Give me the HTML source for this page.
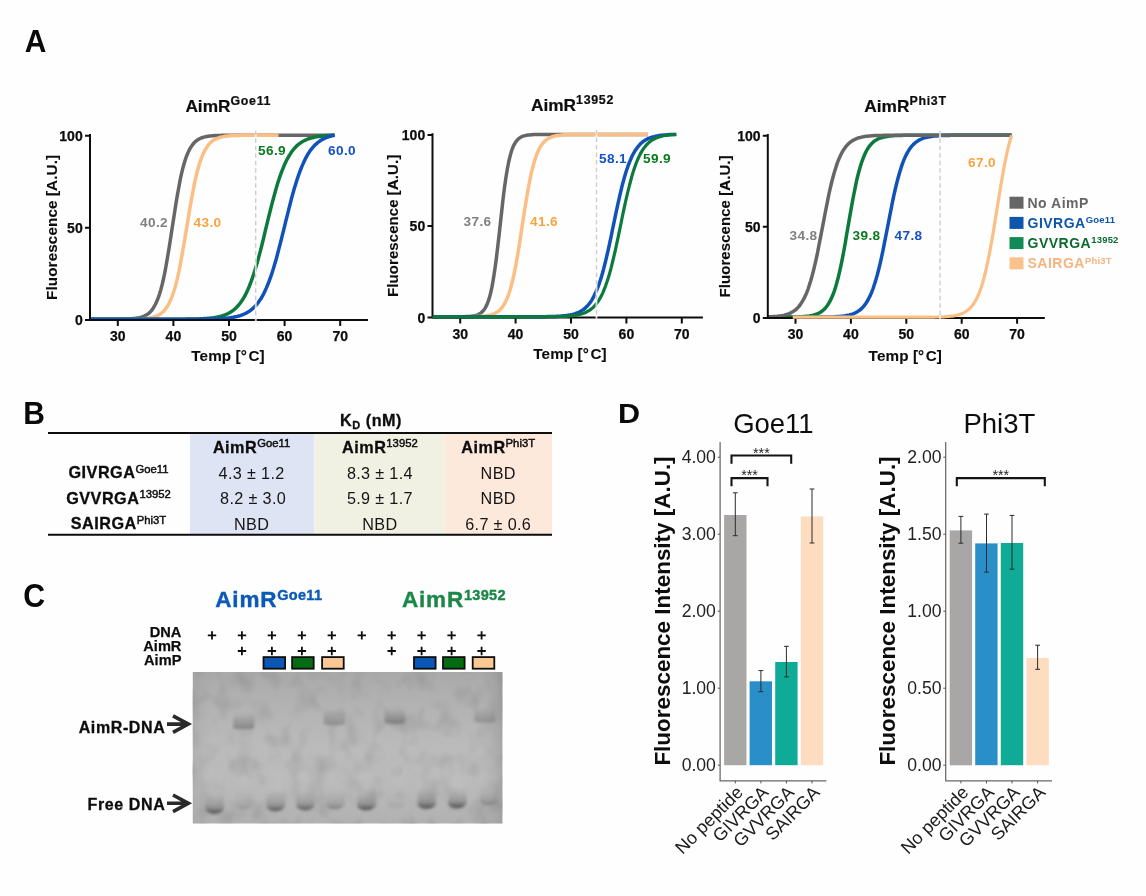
<!DOCTYPE html>
<html lang="en"><head><meta charset="utf-8"><title>AimR figure</title>
<style>
html,body{margin:0;padding:0;background:#fefefe;}
body{width:1146px;height:896px;overflow:hidden;}
svg{display:block;font-family:"Liberation Sans", Arial, Helvetica, sans-serif;}
.pl{font-weight:700;font-size:30px;fill:#0a0a0a;}
.tk{font-weight:700;font-size:14px;fill:#0d0d0d;stroke:#0d0d0d;stroke-width:0.25px;}
.at{font-weight:700;font-size:15.25px;fill:#0d0d0d;letter-spacing:0.1px;stroke:#0d0d0d;stroke-width:0.1px;}
.ti{font-weight:700;font-size:17.3px;fill:#0d0d0d;stroke:#0d0d0d;stroke-width:0.2px;}
.tsup{font-size:12.4px;letter-spacing:0.7px;}
.tl{font-weight:700;font-size:13.6px;letter-spacing:0.4px;}
.lg{font-weight:700;font-size:14px;letter-spacing:0.5px;}
.lsup{font-size:9.5px;letter-spacing:0.2px;}
.bh{font-weight:700;font-size:16.2px;fill:#0d0d0d;letter-spacing:0.5px;stroke:#0d0d0d;stroke-width:0.3px;}
.bsup{font-size:11.3px;letter-spacing:0;font-weight:400;stroke-width:0.45px;}
.bv{font-size:16.2px;fill:#151515;letter-spacing:0.35px;}
.ct{font-weight:700;font-size:22.5px;letter-spacing:0.8px;stroke-width:0.4px;}
.csup{font-size:14.5px;letter-spacing:0.3px;}
.cl{font-weight:700;font-size:14.6px;fill:#0d0d0d;stroke:#0d0d0d;stroke-width:0.25px;}
.cb{font-weight:700;font-size:16px;fill:#0d0d0d;letter-spacing:0.6px;stroke:#0d0d0d;stroke-width:0.3px;}
.dt{font-size:27.5px;fill:#0d0d0d;}
.dy{font-weight:700;font-size:22.45px;fill:#0d0d0d;}
.dl{font-size:17.6px;fill:#222;}
.dx{font-size:18px;fill:#1c1c1c;}
.ds{font-size:14.3px;fill:#1e1e1e;}
</style></head>
<body>
<svg width="1146" height="896" viewBox="0 0 1146 896">
<defs>
<filter id="noise" x="0" y="0" width="100%" height="100%" color-interpolation-filters="sRGB"><feTurbulence type="fractalNoise" baseFrequency="0.055 0.045" numOctaves="2" seed="11" result="n"/><feColorMatrix type="matrix" values="0 0 0 0 0.45  0 0 0 0 0.45  0 0 0 0 0.45  0.6 0 0 0 -0.27"/></filter>
<filter id="blur" x="-30%" y="-30%" width="160%" height="160%"><feGaussianBlur stdDeviation="4.5"/></filter>
<filter id="blur2" x="-20%" y="-80%" width="140%" height="260%"><feGaussianBlur stdDeviation="1.7"/></filter>
<filter id="blur3" x="-30%" y="-50%" width="160%" height="200%"><feGaussianBlur stdDeviation="2.6"/></filter>
<linearGradient id="gelbg" x1="0" y1="0" x2="0" y2="1"><stop offset="0" stop-color="#a9a9a9"/><stop offset="0.2" stop-color="#b2b2b2"/><stop offset="0.5" stop-color="#bbbbbb"/><stop offset="0.8" stop-color="#b9b9b9"/><stop offset="1" stop-color="#b1b1b1"/></linearGradient>
<linearGradient id="geledge" x1="0" y1="0" x2="1" y2="0"><stop offset="0" stop-color="#888" stop-opacity="0.18"/><stop offset="0.06" stop-color="#888" stop-opacity="0"/><stop offset="0.93" stop-color="#888" stop-opacity="0"/><stop offset="1" stop-color="#777" stop-opacity="0.3"/></linearGradient>
<linearGradient id="bandg" x1="0" y1="0" x2="0" y2="1"><stop offset="0" stop-color="#707070" stop-opacity="0"/><stop offset="0.45" stop-color="#707070" stop-opacity="0.28"/><stop offset="0.72" stop-color="#646464" stop-opacity="0.55"/><stop offset="0.9" stop-color="#505050" stop-opacity="1"/><stop offset="1" stop-color="#505050" stop-opacity="0.85"/></linearGradient>
<linearGradient id="bandu" x1="0" y1="0" x2="0" y2="1"><stop offset="0" stop-color="#808080" stop-opacity="0"/><stop offset="0.3" stop-color="#808080" stop-opacity="0.5"/><stop offset="0.65" stop-color="#767676" stop-opacity="0.8"/><stop offset="0.88" stop-color="#6a6a6a" stop-opacity="1"/><stop offset="1" stop-color="#6a6a6a" stop-opacity="0.8"/></linearGradient>
</defs>
<rect width="1146" height="896" fill="#fefefe"/>
<text transform="translate(24.8 52) scale(1 1.075)" class="pl">A</text>
<text transform="translate(23.2 424) scale(1 1.075)" class="pl">B</text>
<text transform="translate(23.3 606.8) scale(1.01 1.115)" class="pl">C</text>
<text transform="translate(617.9 423.2) scale(1.075 1)" class="pl" style="font-size:28.5px">D</text>
<g id="panelA">
<path d="M90.0 319.3 L91.4 319.3 L92.8 319.3 L94.2 319.3 L95.6 319.3 L97.0 319.3 L98.3 319.3 L99.7 319.3 L101.1 319.3 L102.5 319.3 L103.9 319.3 L105.3 319.3 L106.7 319.3 L108.1 319.3 L109.5 319.3 L110.8 319.3 L112.2 319.3 L113.6 319.3 L115.0 319.3 L116.4 319.2 L117.8 319.2 L119.2 319.2 L120.6 319.2 L122.0 319.2 L123.4 319.1 L124.8 319.1 L126.1 319.1 L127.5 319.0 L128.9 318.9 L130.3 318.9 L131.7 318.8 L133.1 318.6 L134.5 318.5 L135.9 318.3 L137.3 318.1 L138.7 317.9 L140.0 317.5 L141.4 317.2 L142.8 316.7 L144.2 316.1 L145.6 315.4 L147.0 314.6 L148.4 313.6 L149.8 312.4 L151.2 310.9 L152.6 309.1 L153.9 307.0 L155.3 304.5 L156.7 301.6 L158.1 298.1 L159.5 294.1 L160.9 289.4 L162.3 284.0 L163.7 278.0 L165.1 271.2 L166.4 263.8 L167.8 255.7 L169.2 247.2 L170.6 238.2 L172.0 229.1 L173.4 219.9 L174.8 210.9 L176.2 202.1 L177.6 193.9 L179.0 186.2 L180.3 179.1 L181.7 172.8 L183.1 167.2 L184.5 162.2 L185.9 157.9 L187.3 154.2 L188.7 151.1 L190.1 148.4 L191.5 146.2 L192.9 144.3 L194.2 142.7 L195.6 141.4 L197.0 140.3 L198.4 139.4 L199.8 138.6 L201.2 138.0 L202.6 137.5 L204.0 137.1 L205.4 136.8 L206.8 136.5 L208.1 136.3 L209.5 136.1 L210.9 135.9 L212.3 135.8 L213.7 135.7 L215.1 135.6 L216.5 135.5 L217.9 135.5 L219.3 135.4 L220.7 135.4 L222.0 135.3 L223.4 135.3 L224.8 135.3 L226.2 135.3 L227.6 135.3 L229.0 135.3 L230.4 135.2 L231.8 135.2 L233.2 135.2 L234.6 135.2 L235.9 135.2 L237.3 135.2 L238.7 135.2 L240.1 135.2 L241.5 135.2 L242.9 135.2 L244.3 135.2 L245.7 135.2 L247.1 135.2 L248.5 135.2 L249.8 135.2 L251.2 135.2 L252.6 135.2 L254.0 135.2 L255.4 135.2 L256.8 135.2 L258.2 135.2 L259.6 135.2 L261.0 135.2 L262.4 135.2 L263.8 135.2 L265.1 135.2 L266.5 135.2 L267.9 135.2 L269.3 135.2 L270.7 135.2 L272.1 135.2 L273.5 135.2 L274.9 135.2 L276.3 135.2 L277.6 135.2 L279.0 135.2 L280.4 135.2 L281.8 135.2 L283.2 135.2 L284.6 135.2 L286.0 135.2 L287.4 135.2 L288.8 135.2 L290.2 135.2 L291.5 135.2 L292.9 135.2 L294.3 135.2 L295.7 135.2 L297.1 135.2 L298.5 135.2 L299.9 135.2 L301.3 135.2 L302.7 135.2 L304.1 135.2 L305.4 135.2 L306.8 135.2 L308.2 135.2 L309.6 135.2 L311.0 135.2 L312.4 135.2 L313.8 135.2 L315.2 135.2 L316.6 135.2 L318.0 135.2 L319.4 135.2 L320.7 135.2 L322.1 135.2 L323.5 135.2 L324.9 135.2 L326.3 135.2 L327.7 135.2 L329.1 135.2 L330.5 135.2 L331.9 135.2 L333.2 135.2 L334.6 135.2 L334.6 135.2" stroke="#666666" stroke-width="3.5" fill="none" stroke-linejoin="round" stroke-linecap="butt"/>
<path d="M90.0 319.3 L91.4 319.3 L92.8 319.3 L94.2 319.3 L95.6 319.3 L97.0 319.3 L98.3 319.3 L99.7 319.3 L101.1 319.3 L102.5 319.3 L103.9 319.3 L105.3 319.3 L106.7 319.3 L108.1 319.3 L109.5 319.3 L110.8 319.3 L112.2 319.3 L113.6 319.3 L115.0 319.3 L116.4 319.3 L117.8 319.3 L119.2 319.3 L120.6 319.3 L122.0 319.3 L123.4 319.3 L124.8 319.3 L126.1 319.2 L127.5 319.2 L128.9 319.2 L130.3 319.2 L131.7 319.2 L133.1 319.2 L134.5 319.1 L135.9 319.1 L137.3 319.0 L138.7 319.0 L140.0 318.9 L141.4 318.9 L142.8 318.8 L144.2 318.7 L145.6 318.5 L147.0 318.4 L148.4 318.2 L149.8 318.0 L151.2 317.7 L152.6 317.4 L153.9 317.0 L155.3 316.5 L156.7 316.0 L158.1 315.3 L159.5 314.5 L160.9 313.6 L162.3 312.5 L163.7 311.2 L165.1 309.6 L166.4 307.7 L167.8 305.6 L169.2 303.0 L170.6 300.1 L172.0 296.6 L173.4 292.7 L174.8 288.2 L176.2 283.1 L177.6 277.4 L179.0 271.1 L180.3 264.2 L181.7 256.8 L183.1 249.0 L184.5 240.8 L185.9 232.4 L187.3 223.8 L188.7 215.4 L190.1 207.1 L191.5 199.2 L192.9 191.7 L194.2 184.7 L195.6 178.3 L197.0 172.5 L198.4 167.3 L199.8 162.7 L201.2 158.6 L202.6 155.1 L204.0 152.0 L205.4 149.4 L206.8 147.2 L208.1 145.2 L209.5 143.6 L210.9 142.3 L212.3 141.1 L213.7 140.1 L215.1 139.3 L216.5 138.6 L217.9 138.1 L219.3 137.6 L220.7 137.2 L222.0 136.9 L223.4 136.6 L224.8 136.3 L226.2 136.2 L227.6 136.0 L229.0 135.9 L230.4 135.7 L231.8 135.7 L233.2 135.6 L234.6 135.5 L235.9 135.5 L237.3 135.4 L238.7 135.4 L240.1 135.3 L241.5 135.3 L242.9 135.3 L244.3 135.3 L245.7 135.3 L247.1 135.3 L248.5 135.2 L249.8 135.2 L251.2 135.2 L252.6 135.2 L254.0 135.2 L255.4 135.2 L256.8 135.2 L258.2 135.2 L259.6 135.2 L261.0 135.2 L262.4 135.2 L263.8 135.2 L265.1 135.2 L266.5 135.2 L267.9 135.2 L269.3 135.2 L270.7 135.2 L272.1 135.2 L273.5 135.2 L274.9 135.2 L276.3 135.2 L277.6 135.2 L278.5 135.2" stroke="#fbbf85" stroke-width="3.5" fill="none" stroke-linejoin="round" stroke-linecap="butt"/>
<path d="M90.0 319.3 L91.4 319.3 L92.8 319.3 L94.2 319.3 L95.6 319.3 L97.0 319.3 L98.3 319.3 L99.7 319.3 L101.1 319.3 L102.5 319.3 L103.9 319.3 L105.3 319.3 L106.7 319.3 L108.1 319.3 L109.5 319.3 L110.8 319.3 L112.2 319.3 L113.6 319.3 L115.0 319.3 L116.4 319.3 L117.8 319.3 L119.2 319.3 L120.6 319.3 L122.0 319.3 L123.4 319.3 L124.8 319.3 L126.1 319.3 L127.5 319.3 L128.9 319.3 L130.3 319.3 L131.7 319.3 L133.1 319.3 L134.5 319.3 L135.9 319.3 L137.3 319.3 L138.7 319.3 L140.0 319.3 L141.4 319.3 L142.8 319.3 L144.2 319.3 L145.6 319.3 L147.0 319.3 L148.4 319.3 L149.8 319.3 L151.2 319.3 L152.6 319.3 L153.9 319.3 L155.3 319.3 L156.7 319.3 L158.1 319.3 L159.5 319.3 L160.9 319.3 L162.3 319.3 L163.7 319.3 L165.1 319.3 L166.4 319.3 L167.8 319.3 L169.2 319.3 L170.6 319.3 L172.0 319.3 L173.4 319.3 L174.8 319.3 L176.2 319.2 L177.6 319.2 L179.0 319.2 L180.3 319.2 L181.7 319.2 L183.1 319.2 L184.5 319.2 L185.9 319.2 L187.3 319.1 L188.7 319.1 L190.1 319.1 L191.5 319.1 L192.9 319.0 L194.2 319.0 L195.6 319.0 L197.0 318.9 L198.4 318.9 L199.8 318.8 L201.2 318.8 L202.6 318.7 L204.0 318.6 L205.4 318.5 L206.8 318.4 L208.1 318.3 L209.5 318.2 L210.9 318.0 L212.3 317.9 L213.7 317.7 L215.1 317.5 L216.5 317.2 L217.9 316.9 L219.3 316.6 L220.7 316.3 L222.0 315.9 L223.4 315.5 L224.8 315.0 L226.2 314.4 L227.6 313.8 L229.0 313.0 L230.4 312.2 L231.8 311.3 L233.2 310.3 L234.6 309.2 L235.9 308.0 L237.3 306.5 L238.7 305.0 L240.1 303.2 L241.5 301.3 L242.9 299.2 L244.3 296.8 L245.7 294.2 L247.1 291.4 L248.5 288.3 L249.8 285.0 L251.2 281.3 L252.6 277.4 L254.0 273.2 L255.4 268.8 L256.8 264.1 L258.2 259.1 L259.6 253.9 L261.0 248.6 L262.4 243.0 L263.8 237.4 L265.1 231.7 L266.5 225.9 L267.9 220.1 L269.3 214.4 L270.7 208.8 L272.1 203.4 L273.5 198.1 L274.9 193.0 L276.3 188.1 L277.6 183.5 L279.0 179.2 L280.4 175.1 L281.8 171.3 L283.2 167.8 L284.6 164.5 L286.0 161.5 L287.4 158.8 L288.8 156.3 L290.2 154.1 L291.5 152.0 L292.9 150.2 L294.3 148.5 L295.7 147.0 L297.1 145.6 L298.5 144.4 L299.9 143.4 L301.3 142.4 L302.7 141.5 L304.1 140.8 L305.4 140.1 L306.8 139.5 L308.2 138.9 L309.6 138.5 L311.0 138.0 L312.4 137.7 L313.8 137.3 L315.2 137.0 L316.6 136.8 L318.0 136.6 L319.4 136.4 L320.7 136.2 L322.1 136.0 L323.5 135.9 L324.9 135.7 L326.3 135.6 L327.7 135.5 L329.1 135.5 L330.5 135.4 L331.9 135.3 L333.2 135.3 L334.6 135.2 L334.6 135.2" stroke="#0b7a3c" stroke-width="3.5" fill="none" stroke-linejoin="round" stroke-linecap="butt"/>
<path d="M90.0 319.3 L91.4 319.3 L92.8 319.3 L94.2 319.3 L95.6 319.3 L97.0 319.3 L98.3 319.3 L99.7 319.3 L101.1 319.3 L102.5 319.3 L103.9 319.3 L105.3 319.3 L106.7 319.3 L108.1 319.3 L109.5 319.3 L110.8 319.3 L112.2 319.3 L113.6 319.3 L115.0 319.3 L116.4 319.3 L117.8 319.3 L119.2 319.3 L120.6 319.3 L122.0 319.3 L123.4 319.3 L124.8 319.3 L126.1 319.3 L127.5 319.3 L128.9 319.3 L130.3 319.3 L131.7 319.3 L133.1 319.3 L134.5 319.3 L135.9 319.3 L137.3 319.3 L138.7 319.3 L140.0 319.3 L141.4 319.3 L142.8 319.3 L144.2 319.3 L145.6 319.3 L147.0 319.3 L148.4 319.3 L149.8 319.3 L151.2 319.3 L152.6 319.3 L153.9 319.3 L155.3 319.3 L156.7 319.3 L158.1 319.3 L159.5 319.3 L160.9 319.3 L162.3 319.3 L163.7 319.3 L165.1 319.3 L166.4 319.3 L167.8 319.3 L169.2 319.3 L170.6 319.3 L172.0 319.3 L173.4 319.3 L174.8 319.3 L176.2 319.3 L177.6 319.3 L179.0 319.3 L180.3 319.3 L181.7 319.3 L183.1 319.3 L184.5 319.3 L185.9 319.3 L187.3 319.3 L188.7 319.3 L190.1 319.3 L191.5 319.2 L192.9 319.2 L194.2 319.2 L195.6 319.2 L197.0 319.2 L198.4 319.2 L199.8 319.2 L201.2 319.2 L202.6 319.2 L204.0 319.1 L205.4 319.1 L206.8 319.1 L208.1 319.1 L209.5 319.0 L210.9 319.0 L212.3 319.0 L213.7 318.9 L215.1 318.9 L216.5 318.8 L217.9 318.8 L219.3 318.7 L220.7 318.6 L222.0 318.5 L223.4 318.4 L224.8 318.3 L226.2 318.2 L227.6 318.1 L229.0 317.9 L230.4 317.7 L231.8 317.5 L233.2 317.3 L234.6 317.0 L235.9 316.7 L237.3 316.4 L238.7 316.0 L240.1 315.6 L241.5 315.1 L242.9 314.6 L244.3 314.0 L245.7 313.4 L247.1 312.6 L248.5 311.8 L249.8 310.9 L251.2 309.8 L252.6 308.7 L254.0 307.4 L255.4 305.9 L256.8 304.3 L258.2 302.6 L259.6 300.6 L261.0 298.5 L262.4 296.1 L263.8 293.5 L265.1 290.7 L266.5 287.6 L267.9 284.3 L269.3 280.7 L270.7 276.8 L272.1 272.7 L273.5 268.3 L274.9 263.6 L276.3 258.8 L277.6 253.7 L279.0 248.4 L280.4 243.0 L281.8 237.4 L283.2 231.8 L284.6 226.1 L286.0 220.4 L287.4 214.8 L288.8 209.2 L290.2 203.8 L291.5 198.5 L292.9 193.5 L294.3 188.6 L295.7 183.9 L297.1 179.5 L298.5 175.4 L299.9 171.5 L301.3 167.9 L302.7 164.6 L304.1 161.5 L305.4 158.7 L306.8 156.1 L308.2 153.7 L309.6 151.6 L311.0 149.6 L312.4 147.9 L313.8 146.3 L315.2 144.8 L316.6 143.6 L318.0 142.4 L319.4 141.4 L320.7 140.4 L322.1 139.6 L323.5 138.9 L324.9 138.2 L326.3 137.6 L327.7 137.1 L329.1 136.6 L330.5 136.2 L331.9 135.8 L333.2 135.5 L334.6 135.2 L334.6 135.2" stroke="#1152b8" stroke-width="3.5" fill="none" stroke-linejoin="round" stroke-linecap="butt"/>
<path d="M85.0 135.7H90.0 M85.0 227.8H90.0 M85.0 320.1H368.0 M90.0 134.1V321.1" stroke="#0d0d0d" stroke-width="2" fill="none"/>
<text x="117.8" y="341.2" text-anchor="middle" class="tk">30</text>
<text x="173.4" y="341.2" text-anchor="middle" class="tk">40</text>
<text x="229.0" y="341.2" text-anchor="middle" class="tk">50</text>
<text x="284.6" y="341.2" text-anchor="middle" class="tk">60</text>
<text x="340.2" y="341.2" text-anchor="middle" class="tk">70</text>
<path d="M117.8 320.1v5.8 M173.4 320.1v5.8 M229.0 320.1v5.8 M284.6 320.1v5.8 M340.2 320.1v5.8 " stroke="#0d0d0d" stroke-width="2" fill="none"/>
<text x="82.7" y="140.9" text-anchor="end" class="tk">100</text>
<text x="82.7" y="232.9" text-anchor="end" class="tk">50</text>
<text x="82.7" y="325.0" text-anchor="end" class="tk">0</text>
<line x1="255.7" y1="130.7" x2="255.7" y2="321.1" stroke="#fefefe" stroke-width="1.7" opacity="0.9"/>
<line x1="255.7" y1="130.7" x2="255.7" y2="321.1" stroke="#cdcdcd" stroke-width="1.4" stroke-dasharray="4.5 3"/>
<text x="228.0" y="361.3" text-anchor="middle" class="at">Temp [°<tspan dx="1.4">C]</tspan></text>
<text transform="translate(56.7 227.4) rotate(-90)" text-anchor="middle" class="at">Fluorescence [A.U.]</text>
<text x="228.3" y="112.0" text-anchor="middle" class="ti">AimR<tspan dy="-7.4" class="tsup">Goe11</tspan></text>
<text x="140" y="227" class="tl" fill="#808080">40.2</text>
<text x="193.5" y="227" class="tl" fill="#f7a440">43.0</text>
<text x="258" y="154.6" class="tl" fill="#0a7a1e">56.9</text>
<text x="328" y="154.6" class="tl" fill="#1450c8">60.0</text>
<path d="M432.5 316.8 L433.9 316.8 L435.3 316.8 L436.7 316.8 L438.0 316.8 L439.4 316.8 L440.8 316.8 L442.2 316.8 L443.6 316.8 L445.0 316.8 L446.4 316.8 L447.7 316.8 L449.1 316.8 L450.5 316.8 L451.9 316.8 L453.3 316.8 L454.7 316.8 L456.0 316.8 L457.4 316.8 L458.8 316.8 L460.2 316.7 L461.6 316.7 L463.0 316.7 L464.4 316.7 L465.7 316.6 L467.1 316.6 L468.5 316.5 L469.9 316.4 L471.3 316.2 L472.7 316.1 L474.1 315.8 L475.4 315.5 L476.8 315.1 L478.2 314.6 L479.6 313.9 L481.0 312.9 L482.4 311.7 L483.7 310.2 L485.1 308.1 L486.5 305.6 L487.9 302.2 L489.3 298.1 L490.7 292.8 L492.1 286.4 L493.4 278.7 L494.8 269.7 L496.2 259.4 L497.6 247.9 L499.0 235.7 L500.4 223.1 L501.8 210.5 L503.1 198.6 L504.5 187.5 L505.9 177.7 L507.3 169.2 L508.7 162.0 L510.1 156.1 L511.4 151.4 L512.8 147.5 L514.2 144.5 L515.6 142.2 L517.0 140.4 L518.4 138.9 L519.8 137.9 L521.1 137.0 L522.5 136.4 L523.9 135.9 L525.3 135.6 L526.7 135.3 L528.1 135.1 L529.5 134.9 L530.8 134.8 L532.2 134.7 L533.6 134.6 L535.0 134.6 L536.4 134.5 L537.8 134.5 L539.1 134.5 L540.5 134.5 L541.9 134.4 L543.3 134.4 L544.7 134.4 L546.1 134.4 L547.5 134.4 L548.8 134.4 L550.2 134.4 L551.6 134.4 L553.0 134.4 L554.4 134.4 L555.8 134.4 L557.1 134.4 L558.5 134.4 L559.9 134.4 L561.3 134.4 L562.7 134.4 L564.1 134.4 L565.5 134.4 L566.8 134.4 L568.2 134.4 L569.6 134.4 L571.0 134.4 L572.4 134.4 L573.8 134.4 L575.2 134.4 L576.5 134.4 L577.9 134.4 L579.3 134.4 L580.7 134.4 L582.1 134.4 L583.5 134.4 L584.9 134.4 L586.2 134.4 L587.6 134.4 L589.0 134.4 L590.4 134.4 L591.8 134.4 L593.2 134.4 L594.5 134.4 L595.9 134.4 L597.3 134.4 L598.7 134.4 L600.1 134.4 L601.5 134.4 L602.9 134.4 L604.2 134.4 L605.6 134.4 L607.0 134.4 L608.4 134.4 L609.8 134.4 L611.2 134.4 L612.5 134.4 L613.9 134.4 L615.3 134.4 L616.7 134.4 L618.1 134.4 L619.5 134.4 L620.9 134.4 L622.2 134.4 L623.6 134.4 L625.0 134.4 L626.4 134.4 L627.8 134.4 L629.2 134.4 L630.6 134.4 L631.9 134.4 L633.3 134.4 L634.7 134.4 L636.1 134.4 L637.5 134.4 L638.9 134.4 L640.2 134.4 L641.6 134.4 L643.0 134.4 L644.4 134.4 L645.8 134.4 L647.2 134.4 L648.0 134.4" stroke="#666666" stroke-width="3.5" fill="none" stroke-linejoin="round" stroke-linecap="butt"/>
<path d="M432.5 316.8 L433.9 316.8 L435.3 316.8 L436.7 316.8 L438.0 316.8 L439.4 316.8 L440.8 316.8 L442.2 316.8 L443.6 316.8 L445.0 316.8 L446.4 316.8 L447.7 316.8 L449.1 316.8 L450.5 316.8 L451.9 316.8 L453.3 316.8 L454.7 316.8 L456.0 316.8 L457.4 316.8 L458.8 316.8 L460.2 316.8 L461.6 316.8 L463.0 316.8 L464.4 316.8 L465.7 316.7 L467.1 316.7 L468.5 316.7 L469.9 316.7 L471.3 316.7 L472.7 316.7 L474.1 316.6 L475.4 316.6 L476.8 316.5 L478.2 316.5 L479.6 316.4 L481.0 316.3 L482.4 316.2 L483.7 316.1 L485.1 315.9 L486.5 315.8 L487.9 315.5 L489.3 315.3 L490.7 314.9 L492.1 314.5 L493.4 314.0 L494.8 313.4 L496.2 312.6 L497.6 311.8 L499.0 310.7 L500.4 309.4 L501.8 307.8 L503.1 305.9 L504.5 303.7 L505.9 301.1 L507.3 297.9 L508.7 294.3 L510.1 290.0 L511.4 285.1 L512.8 279.5 L514.2 273.3 L515.6 266.3 L517.0 258.7 L518.4 250.5 L519.8 241.8 L521.1 232.9 L522.5 223.8 L523.9 214.7 L525.3 205.9 L526.7 197.4 L528.1 189.4 L529.5 182.0 L530.8 175.3 L532.2 169.3 L533.6 164.0 L535.0 159.4 L536.4 155.4 L537.8 151.9 L539.1 149.0 L540.5 146.5 L541.9 144.5 L543.3 142.7 L544.7 141.3 L546.1 140.1 L547.5 139.1 L548.8 138.2 L550.2 137.6 L551.6 137.0 L553.0 136.5 L554.4 136.1 L555.8 135.8 L557.1 135.6 L558.5 135.4 L559.9 135.2 L561.3 135.0 L562.7 134.9 L564.1 134.8 L565.5 134.8 L566.8 134.7 L568.2 134.6 L569.6 134.6 L571.0 134.6 L572.4 134.5 L573.8 134.5 L575.2 134.5 L576.5 134.5 L577.9 134.5 L579.3 134.4 L580.7 134.4 L582.1 134.4 L583.5 134.4 L584.9 134.4 L586.2 134.4 L587.6 134.4 L589.0 134.4 L590.4 134.4 L591.8 134.4 L593.2 134.4 L594.5 134.4 L595.9 134.4 L597.3 134.4 L598.7 134.4 L600.1 134.4 L601.5 134.4 L602.9 134.4 L604.2 134.4 L605.6 134.4 L607.0 134.4 L608.4 134.4 L609.8 134.4 L611.2 134.4 L612.5 134.4 L613.9 134.4 L615.3 134.4 L616.7 134.4 L618.1 134.4 L619.5 134.4 L620.9 134.4 L622.2 134.4 L623.6 134.4 L625.0 134.4 L626.4 134.4 L627.8 134.4 L629.2 134.4 L630.6 134.4 L631.9 134.4 L633.3 134.4 L634.7 134.4 L636.1 134.4 L637.5 134.4 L638.9 134.4 L640.2 134.4 L641.6 134.4 L643.0 134.4 L644.4 134.4 L645.8 134.4 L647.2 134.4 L648.0 134.4" stroke="#fbbf85" stroke-width="3.5" fill="none" stroke-linejoin="round" stroke-linecap="butt"/>
<path d="M432.5 316.8 L433.9 316.8 L435.3 316.8 L436.7 316.8 L438.0 316.8 L439.4 316.8 L440.8 316.8 L442.2 316.8 L443.6 316.8 L445.0 316.8 L446.4 316.8 L447.7 316.8 L449.1 316.8 L450.5 316.8 L451.9 316.8 L453.3 316.8 L454.7 316.8 L456.0 316.8 L457.4 316.8 L458.8 316.8 L460.2 316.8 L461.6 316.8 L463.0 316.8 L464.4 316.8 L465.7 316.8 L467.1 316.8 L468.5 316.8 L469.9 316.8 L471.3 316.8 L472.7 316.8 L474.1 316.8 L475.4 316.8 L476.8 316.8 L478.2 316.8 L479.6 316.8 L481.0 316.8 L482.4 316.8 L483.7 316.8 L485.1 316.8 L486.5 316.8 L487.9 316.8 L489.3 316.8 L490.7 316.8 L492.1 316.8 L493.4 316.8 L494.8 316.8 L496.2 316.8 L497.6 316.8 L499.0 316.8 L500.4 316.8 L501.8 316.8 L503.1 316.8 L504.5 316.8 L505.9 316.8 L507.3 316.8 L508.7 316.8 L510.1 316.8 L511.4 316.8 L512.8 316.8 L514.2 316.8 L515.6 316.8 L517.0 316.8 L518.4 316.8 L519.8 316.8 L521.1 316.8 L522.5 316.8 L523.9 316.8 L525.3 316.8 L526.7 316.8 L528.1 316.8 L529.5 316.8 L530.8 316.8 L532.2 316.8 L533.6 316.8 L535.0 316.8 L536.4 316.7 L537.8 316.7 L539.1 316.7 L540.5 316.7 L541.9 316.7 L543.3 316.7 L544.7 316.7 L546.1 316.7 L547.5 316.6 L548.8 316.6 L550.2 316.6 L551.6 316.5 L553.0 316.5 L554.4 316.5 L555.8 316.4 L557.1 316.3 L558.5 316.3 L559.9 316.2 L561.3 316.1 L562.7 316.0 L564.1 315.8 L565.5 315.7 L566.8 315.5 L568.2 315.3 L569.6 315.1 L571.0 314.8 L572.4 314.5 L573.8 314.1 L575.2 313.7 L576.5 313.2 L577.9 312.7 L579.3 312.0 L580.7 311.3 L582.1 310.4 L583.5 309.5 L584.9 308.4 L586.2 307.1 L587.6 305.7 L589.0 304.0 L590.4 302.2 L591.8 300.1 L593.2 297.7 L594.5 295.0 L595.9 292.0 L597.3 288.7 L598.7 285.1 L600.1 281.0 L601.5 276.6 L602.9 271.8 L604.2 266.6 L605.6 261.1 L607.0 255.2 L608.4 249.1 L609.8 242.7 L611.2 236.2 L612.5 229.5 L613.9 222.8 L615.3 216.1 L616.7 209.5 L618.1 203.1 L619.5 196.9 L620.9 191.0 L622.2 185.4 L623.6 180.2 L625.0 175.3 L626.4 170.8 L627.8 166.7 L629.2 162.9 L630.6 159.6 L631.9 156.5 L633.3 153.8 L634.7 151.4 L636.1 149.2 L637.5 147.3 L638.9 145.6 L640.2 144.1 L641.6 142.8 L643.0 141.7 L644.4 140.7 L645.8 139.8 L647.2 139.1 L648.6 138.4 L649.9 137.9 L651.3 137.4 L652.7 136.9 L654.1 136.6 L655.5 136.2 L656.9 136.0 L658.3 135.7 L659.6 135.5 L661.0 135.3 L662.4 135.2 L663.8 135.0 L665.2 134.9 L666.6 134.8 L668.0 134.7 L669.3 134.6 L670.7 134.6 L672.1 134.5 L673.5 134.5 L674.9 134.4 L676.3 134.4 L676.3 134.4" stroke="#1152b8" stroke-width="3.5" fill="none" stroke-linejoin="round" stroke-linecap="butt"/>
<path d="M427.5 134.9H432.5 M427.5 226.1H432.5 M427.5 317.6H702.9 M432.5 133.3V318.6" stroke="#0d0d0d" stroke-width="2" fill="none"/>
<text x="460.2" y="338.7" text-anchor="middle" class="tk">30</text>
<text x="515.6" y="338.7" text-anchor="middle" class="tk">40</text>
<text x="571.0" y="338.7" text-anchor="middle" class="tk">50</text>
<text x="626.4" y="338.7" text-anchor="middle" class="tk">60</text>
<text x="681.8" y="338.7" text-anchor="middle" class="tk">70</text>
<path d="M460.2 317.6v5.8 M515.6 317.6v5.8 M571.0 317.6v5.8 M626.4 317.6v5.8 M681.8 317.6v5.8 " stroke="#0d0d0d" stroke-width="2" fill="none"/>
<text x="425.2" y="140.1" text-anchor="end" class="tk">100</text>
<text x="425.2" y="231.3" text-anchor="end" class="tk">50</text>
<text x="425.2" y="322.5" text-anchor="end" class="tk">0</text>
<path d="M432.5 316.8 L433.9 316.8 L435.3 316.8 L436.7 316.8 L438.0 316.8 L439.4 316.8 L440.8 316.8 L442.2 316.8 L443.6 316.8 L445.0 316.8 L446.4 316.8 L447.7 316.8 L449.1 316.8 L450.5 316.8 L451.9 316.8 L453.3 316.8 L454.7 316.8 L456.0 316.8 L457.4 316.8 L458.8 316.8 L460.2 316.8 L461.6 316.8 L463.0 316.8 L464.4 316.8 L465.7 316.8 L467.1 316.8 L468.5 316.8 L469.9 316.8 L471.3 316.8 L472.7 316.8 L474.1 316.8 L475.4 316.8 L476.8 316.8 L478.2 316.8 L479.6 316.8 L481.0 316.8 L482.4 316.8 L483.7 316.8 L485.1 316.8 L486.5 316.8 L487.9 316.8 L489.3 316.8 L490.7 316.8 L492.1 316.8 L493.4 316.8 L494.8 316.8 L496.2 316.8 L497.6 316.8 L499.0 316.8 L500.4 316.8 L501.8 316.8 L503.1 316.8 L504.5 316.8 L505.9 316.8 L507.3 316.8 L508.7 316.8 L510.1 316.8 L511.4 316.8 L512.8 316.8 L514.2 316.8 L515.6 316.8 L517.0 316.8 L518.4 316.8 L519.8 316.8 L521.1 316.8 L522.5 316.8 L523.9 316.8 L525.3 316.8 L526.7 316.8 L528.1 316.8 L529.5 316.8 L530.8 316.8 L532.2 316.8 L533.6 316.8 L535.0 316.8 L536.4 316.8 L537.8 316.8 L539.1 316.8 L540.5 316.8 L541.9 316.8 L543.3 316.8 L544.7 316.7 L546.1 316.7 L547.5 316.7 L548.8 316.7 L550.2 316.7 L551.6 316.7 L553.0 316.7 L554.4 316.6 L555.8 316.6 L557.1 316.6 L558.5 316.5 L559.9 316.5 L561.3 316.5 L562.7 316.4 L564.1 316.3 L565.5 316.3 L566.8 316.2 L568.2 316.1 L569.6 316.0 L571.0 315.9 L572.4 315.7 L573.8 315.5 L575.2 315.3 L576.5 315.1 L577.9 314.8 L579.3 314.5 L580.7 314.2 L582.1 313.8 L583.5 313.3 L584.9 312.8 L586.2 312.2 L587.6 311.4 L589.0 310.6 L590.4 309.7 L591.8 308.6 L593.2 307.4 L594.5 306.0 L595.9 304.4 L597.3 302.5 L598.7 300.5 L600.1 298.2 L601.5 295.6 L602.9 292.6 L604.2 289.4 L605.6 285.8 L607.0 281.8 L608.4 277.4 L609.8 272.7 L611.2 267.6 L612.5 262.1 L613.9 256.4 L615.3 250.3 L616.7 243.9 L618.1 237.4 L619.5 230.7 L620.9 224.0 L622.2 217.3 L623.6 210.7 L625.0 204.2 L626.4 198.0 L627.8 192.0 L629.2 186.3 L630.6 181.0 L631.9 176.1 L633.3 171.5 L634.7 167.3 L636.1 163.4 L637.5 160.0 L638.9 156.9 L640.2 154.1 L641.6 151.6 L643.0 149.4 L644.4 147.4 L645.8 145.7 L647.2 144.2 L648.6 142.8 L649.9 141.7 L651.3 140.6 L652.7 139.7 L654.1 139.0 L655.5 138.3 L656.9 137.7 L658.3 137.2 L659.6 136.8 L661.0 136.4 L662.4 136.0 L663.8 135.7 L665.2 135.5 L666.6 135.3 L668.0 135.1 L669.3 134.9 L670.7 134.8 L672.1 134.7 L673.5 134.6 L674.9 134.5 L676.3 134.4 L676.3 134.4" stroke="#0b7a3c" stroke-width="3.2" fill="none" stroke-linejoin="round" stroke-linecap="butt"/>
<line x1="596.5" y1="129.9" x2="596.5" y2="318.6" stroke="#fefefe" stroke-width="1.7" opacity="0.9"/>
<line x1="596.5" y1="129.9" x2="596.5" y2="318.6" stroke="#cdcdcd" stroke-width="1.4" stroke-dasharray="4.5 3"/>
<text x="570.0" y="358.8" text-anchor="middle" class="at">Temp [°<tspan dx="1.4">C]</tspan></text>
<text transform="translate(398.2 225.8) rotate(-90)" text-anchor="middle" class="at" style="font-size:14.95px">Fluorescence [A.U.]</text>
<text x="572.5" y="111.0" text-anchor="middle" class="ti">AimR<tspan dy="-7.4" class="tsup">13952</tspan></text>
<text x="463.5" y="226" class="tl" fill="#808080">37.6</text>
<text x="530" y="226" class="tl" fill="#f7a440">41.6</text>
<text x="599" y="163.2" class="tl" fill="#1450c8">58.1</text>
<text x="643" y="163.2" class="tl" fill="#0a7a1e">59.9</text>
<path d="M767.8 317.2 L769.2 317.2 L770.6 317.2 L772.0 317.2 L773.3 317.2 L774.7 317.2 L776.1 317.2 L777.5 317.2 L778.9 317.2 L780.3 317.2 L781.6 317.2 L783.0 317.2 L784.4 317.2 L785.8 317.2 L787.2 317.2 L788.6 317.2 L790.0 317.2 L791.3 317.2 L792.7 317.2 L794.1 317.2 L795.5 317.2 L796.9 317.2 L798.3 317.2 L799.7 317.2 L801.0 317.2 L802.4 317.2 L803.8 317.2 L805.2 317.2 L806.6 317.2 L808.0 317.2 L809.3 317.2 L810.7 317.2 L812.1 317.2 L813.5 317.2 L814.9 317.2 L816.3 317.1 L817.7 317.1 L819.0 317.1 L820.4 317.1 L821.8 317.1 L823.2 317.1 L824.6 317.1 L826.0 317.0 L827.4 317.0 L828.7 317.0 L830.1 316.9 L831.5 316.9 L832.9 316.9 L834.3 316.8 L835.7 316.7 L837.0 316.6 L838.4 316.6 L839.8 316.4 L841.2 316.3 L842.6 316.2 L844.0 316.0 L845.4 315.8 L846.7 315.5 L848.1 315.2 L849.5 314.9 L850.9 314.5 L852.3 314.1 L853.7 313.6 L855.1 313.0 L856.4 312.2 L857.8 311.4 L859.2 310.5 L860.6 309.4 L862.0 308.1 L863.4 306.6 L864.8 304.9 L866.1 303.0 L867.5 300.8 L868.9 298.2 L870.3 295.4 L871.7 292.2 L873.1 288.5 L874.4 284.5 L875.8 280.1 L877.2 275.2 L878.6 269.8 L880.0 264.1 L881.4 257.9 L882.8 251.4 L884.1 244.7 L885.5 237.7 L886.9 230.5 L888.3 223.3 L889.7 216.2 L891.1 209.1 L892.4 202.3 L893.8 195.7 L895.2 189.5 L896.6 183.7 L898.0 178.3 L899.4 173.3 L900.8 168.7 L902.1 164.6 L903.5 160.9 L904.9 157.6 L906.3 154.7 L907.7 152.1 L909.1 149.8 L910.5 147.8 L911.8 146.1 L913.2 144.6 L914.6 143.3 L916.0 142.1 L917.4 141.2 L918.8 140.3 L920.1 139.6 L921.5 139.0 L922.9 138.4 L924.3 137.9 L925.7 137.6 L927.1 137.2 L928.5 136.9 L929.8 136.7 L931.2 136.5 L932.6 136.3 L934.0 136.1 L935.4 136.0 L936.8 135.9 L938.2 135.8 L939.5 135.7 L940.9 135.6 L942.3 135.6 L943.7 135.5 L945.1 135.5 L946.5 135.4 L947.8 135.4 L949.2 135.4 L950.6 135.3 L952.0 135.3 L953.4 135.3 L954.8 135.3 L956.2 135.3 L957.5 135.3 L958.9 135.3 L960.3 135.2 L961.7 135.2 L963.1 135.2 L964.5 135.2 L965.9 135.2 L967.2 135.2 L968.6 135.2 L970.0 135.2 L971.4 135.2 L972.8 135.2 L974.2 135.2 L975.5 135.2 L976.9 135.2 L978.3 135.2 L979.7 135.2 L981.1 135.2 L982.5 135.2 L983.9 135.2 L985.2 135.2 L986.6 135.2 L988.0 135.2 L989.4 135.2 L990.8 135.2 L992.2 135.2 L993.6 135.2 L994.9 135.2 L996.3 135.2 L997.7 135.2 L999.1 135.2 L1000.5 135.2 L1001.9 135.2 L1003.2 135.2 L1004.6 135.2 L1006.0 135.2 L1007.4 135.2 L1008.8 135.2 L1010.2 135.2 L1011.6 135.2 L1011.6 135.2" stroke="#1152b8" stroke-width="3.5" fill="none" stroke-linejoin="round" stroke-linecap="butt"/>
<path d="M767.8 317.2 L769.2 317.2 L770.6 317.2 L772.0 317.2 L773.3 317.2 L774.7 317.2 L776.1 317.2 L777.5 317.2 L778.9 317.2 L780.3 317.2 L781.6 317.2 L783.0 317.2 L784.4 317.2 L785.8 317.1 L787.2 317.1 L788.6 317.1 L790.0 317.1 L791.3 317.1 L792.7 317.1 L794.1 317.0 L795.5 317.0 L796.9 317.0 L798.3 316.9 L799.7 316.8 L801.0 316.8 L802.4 316.7 L803.8 316.6 L805.2 316.5 L806.6 316.3 L808.0 316.2 L809.3 316.0 L810.7 315.7 L812.1 315.5 L813.5 315.1 L814.9 314.7 L816.3 314.3 L817.7 313.7 L819.0 313.0 L820.4 312.2 L821.8 311.3 L823.2 310.2 L824.6 308.9 L826.0 307.3 L827.4 305.5 L828.7 303.4 L830.1 300.9 L831.5 298.1 L832.9 294.8 L834.3 291.1 L835.7 286.8 L837.0 282.0 L838.4 276.7 L839.8 270.8 L841.2 264.3 L842.6 257.4 L844.0 250.0 L845.4 242.3 L846.7 234.3 L848.1 226.2 L849.5 218.1 L850.9 210.1 L852.3 202.4 L853.7 195.0 L855.1 188.1 L856.4 181.6 L857.8 175.7 L859.2 170.4 L860.6 165.6 L862.0 161.3 L863.4 157.6 L864.8 154.3 L866.1 151.5 L867.5 149.0 L868.9 146.9 L870.3 145.1 L871.7 143.5 L873.1 142.2 L874.4 141.1 L875.8 140.2 L877.2 139.4 L878.6 138.7 L880.0 138.1 L881.4 137.7 L882.8 137.3 L884.1 136.9 L885.5 136.7 L886.9 136.4 L888.3 136.2 L889.7 136.1 L891.1 135.9 L892.4 135.8 L893.8 135.7 L895.2 135.6 L896.6 135.6 L898.0 135.5 L899.4 135.4 L900.8 135.4 L902.1 135.4 L903.5 135.3 L904.9 135.3 L906.3 135.3 L907.7 135.3 L909.1 135.3 L910.5 135.3 L911.8 135.2 L913.2 135.2 L914.6 135.2 L916.0 135.2 L917.4 135.2 L918.8 135.2 L920.1 135.2 L921.5 135.2 L922.9 135.2 L924.3 135.2 L925.7 135.2 L927.1 135.2 L928.5 135.2 L929.8 135.2 L931.2 135.2 L932.6 135.2 L934.0 135.2 L935.4 135.2 L936.8 135.2 L938.2 135.2 L939.5 135.2 L940.9 135.2 L942.3 135.2 L943.7 135.2 L945.1 135.2 L946.5 135.2 L947.8 135.2 L949.2 135.2 L950.6 135.2 L952.0 135.2 L953.4 135.2 L954.8 135.2 L956.2 135.2 L957.5 135.2 L958.9 135.2 L960.3 135.2 L961.7 135.2 L963.1 135.2 L964.5 135.2 L965.9 135.2 L967.2 135.2 L968.6 135.2 L970.0 135.2 L971.4 135.2 L972.8 135.2 L974.2 135.2 L975.5 135.2 L976.9 135.2 L978.3 135.2 L979.7 135.2 L981.1 135.2 L982.5 135.2 L983.9 135.2 L985.2 135.2 L986.6 135.2 L988.0 135.2 L989.4 135.2 L990.8 135.2 L992.2 135.2 L993.6 135.2 L994.9 135.2 L996.3 135.2 L997.7 135.2 L999.1 135.2 L1000.5 135.2 L1001.9 135.2 L1003.2 135.2 L1004.6 135.2 L1006.0 135.2 L1007.4 135.2 L1008.8 135.2 L1010.2 135.2 L1011.6 135.2 L1011.6 135.2" stroke="#0b7a3c" stroke-width="3.5" fill="none" stroke-linejoin="round" stroke-linecap="butt"/>
<path d="M767.8 316.9 L769.2 316.8 L770.6 316.8 L772.0 316.7 L773.3 316.6 L774.7 316.5 L776.1 316.4 L777.5 316.3 L778.9 316.1 L780.3 315.9 L781.6 315.7 L783.0 315.4 L784.4 315.1 L785.8 314.7 L787.2 314.3 L788.6 313.8 L790.0 313.2 L791.3 312.6 L792.7 311.8 L794.1 310.9 L795.5 309.8 L796.9 308.6 L798.3 307.1 L799.7 305.5 L801.0 303.6 L802.4 301.4 L803.8 298.9 L805.2 296.1 L806.6 292.9 L808.0 289.3 L809.3 285.3 L810.7 280.8 L812.1 275.9 L813.5 270.5 L814.9 264.7 L816.3 258.5 L817.7 251.9 L819.0 245.0 L820.4 237.9 L821.8 230.6 L823.2 223.3 L824.6 216.0 L826.0 208.8 L827.4 201.9 L828.7 195.2 L830.1 188.9 L831.5 183.0 L832.9 177.5 L834.3 172.5 L835.7 168.0 L837.0 163.9 L838.4 160.2 L839.8 156.9 L841.2 154.0 L842.6 151.4 L844.0 149.2 L845.4 147.3 L846.7 145.6 L848.1 144.1 L849.5 142.8 L850.9 141.7 L852.3 140.8 L853.7 140.0 L855.1 139.3 L856.4 138.7 L857.8 138.2 L859.2 137.7 L860.6 137.4 L862.0 137.0 L863.4 136.8 L864.8 136.5 L866.1 136.3 L867.5 136.2 L868.9 136.0 L870.3 135.9 L871.7 135.8 L873.1 135.7 L874.4 135.6 L875.8 135.6 L877.2 135.5 L878.6 135.5 L880.0 135.4 L881.4 135.4 L882.8 135.4 L884.1 135.3 L885.5 135.3 L886.9 135.3 L888.3 135.3 L889.7 135.3 L891.1 135.3 L892.4 135.3 L893.8 135.2 L895.2 135.2 L896.6 135.2 L898.0 135.2 L899.4 135.2 L900.8 135.2 L902.1 135.2 L903.5 135.2 L904.9 135.2 L906.3 135.2 L907.7 135.2 L909.1 135.2 L910.5 135.2 L911.8 135.2 L913.2 135.2 L914.6 135.2 L916.0 135.2 L917.4 135.2 L918.8 135.2 L920.1 135.2 L921.5 135.2 L922.9 135.2 L924.3 135.2 L925.7 135.2 L927.1 135.2 L928.5 135.2 L929.8 135.2 L931.2 135.2 L932.6 135.2 L934.0 135.2 L935.4 135.2 L936.8 135.2 L938.2 135.2 L939.5 135.2 L940.9 135.2 L942.3 135.2 L943.7 135.2 L945.1 135.2 L946.5 135.2 L947.8 135.2 L949.2 135.2 L950.6 135.2 L952.0 135.2 L953.4 135.2 L954.8 135.2 L956.2 135.2 L957.5 135.2 L958.9 135.2 L960.3 135.2 L961.7 135.2 L963.1 135.2 L964.5 135.2 L965.9 135.2 L967.2 135.2 L968.6 135.2 L970.0 135.2 L971.4 135.2 L972.8 135.2 L974.2 135.2 L975.5 135.2 L976.9 135.2 L978.3 135.2 L979.7 135.2 L981.1 135.2 L982.5 135.2 L983.9 135.2 L985.2 135.2 L986.6 135.2 L988.0 135.2 L989.4 135.2 L990.8 135.2 L992.2 135.2 L993.6 135.2 L994.9 135.2 L996.3 135.2 L997.7 135.2 L999.1 135.2 L1000.5 135.2 L1001.9 135.2 L1003.2 135.2 L1004.6 135.2 L1006.0 135.2 L1007.4 135.2 L1008.8 135.2 L1010.2 135.2 L1011.6 135.2 L1011.6 135.2" stroke="#666666" stroke-width="3.5" fill="none" stroke-linejoin="round" stroke-linecap="butt"/>
<path d="M762.8 135.7H767.8 M762.8 226.7H767.8 M762.8 317.9H1044.8 M767.8 134.1V318.9" stroke="#0d0d0d" stroke-width="2" fill="none"/>
<text x="795.5" y="339.1" text-anchor="middle" class="tk">30</text>
<text x="850.9" y="339.1" text-anchor="middle" class="tk">40</text>
<text x="906.3" y="339.1" text-anchor="middle" class="tk">50</text>
<text x="961.7" y="339.1" text-anchor="middle" class="tk">60</text>
<text x="1017.1" y="339.1" text-anchor="middle" class="tk">70</text>
<path d="M795.5 317.9v5.8 M850.9 317.9v5.8 M906.3 317.9v5.8 M961.7 317.9v5.8 M1017.1 317.9v5.8 " stroke="#0d0d0d" stroke-width="2" fill="none"/>
<text x="760.5" y="140.9" text-anchor="end" class="tk">100</text>
<text x="760.5" y="231.9" text-anchor="end" class="tk">50</text>
<text x="760.5" y="322.9" text-anchor="end" class="tk">0</text>
<path d="M792.7 317.2 L794.1 317.2 L795.5 317.2 L796.9 317.2 L798.3 317.2 L799.7 317.2 L801.0 317.2 L802.4 317.2 L803.8 317.2 L805.2 317.2 L806.6 317.2 L808.0 317.2 L809.3 317.2 L810.7 317.2 L812.1 317.2 L813.5 317.2 L814.9 317.2 L816.3 317.2 L817.7 317.2 L819.0 317.2 L820.4 317.2 L821.8 317.2 L823.2 317.2 L824.6 317.2 L826.0 317.2 L827.4 317.2 L828.7 317.2 L830.1 317.2 L831.5 317.2 L832.9 317.2 L834.3 317.2 L835.7 317.2 L837.0 317.2 L838.4 317.2 L839.8 317.2 L841.2 317.2 L842.6 317.2 L844.0 317.2 L845.4 317.2 L846.7 317.2 L848.1 317.2 L849.5 317.2 L850.9 317.2 L852.3 317.2 L853.7 317.2 L855.1 317.2 L856.4 317.2 L857.8 317.2 L859.2 317.2 L860.6 317.2 L862.0 317.2 L863.4 317.2 L864.8 317.2 L866.1 317.2 L867.5 317.2 L868.9 317.2 L870.3 317.2 L871.7 317.2 L873.1 317.2 L874.4 317.2 L875.8 317.2 L877.2 317.2 L878.6 317.2 L880.0 317.2 L881.4 317.2 L882.8 317.2 L884.1 317.2 L885.5 317.2 L886.9 317.2 L888.3 317.2 L889.7 317.2 L891.1 317.2 L892.4 317.2 L893.8 317.2 L895.2 317.2 L896.6 317.2 L898.0 317.2 L899.4 317.2 L900.8 317.2 L902.1 317.2 L903.5 317.2 L904.9 317.2 L906.3 317.2 L907.7 317.2 L909.1 317.2 L910.5 317.2 L911.8 317.2 L913.2 317.2 L914.6 317.2 L916.0 317.2 L917.4 317.2 L918.8 317.2 L920.1 317.2 L921.5 317.2 L922.9 317.2 L924.3 317.2 L925.7 317.1 L927.1 317.1 L928.5 317.1 L929.8 317.1 L931.2 317.1 L932.6 317.1 L934.0 317.1 L935.4 317.0 L936.8 317.0 L938.2 317.0 L939.5 316.9 L940.9 316.9 L942.3 316.8 L943.7 316.8 L945.1 316.7 L946.5 316.6 L947.8 316.5 L949.2 316.4 L950.6 316.2 L952.0 316.1 L953.4 315.9 L954.8 315.6 L956.2 315.3 L957.5 315.0 L958.9 314.6 L960.3 314.2 L961.7 313.7 L963.1 313.1 L964.5 312.4 L965.9 311.6 L967.2 310.6 L968.6 309.5 L970.0 308.2 L971.4 306.7 L972.8 305.0 L974.2 303.0 L975.5 300.7 L976.9 298.0 L978.3 295.0 L979.7 291.6 L981.1 287.7 L982.5 283.4 L983.9 278.5 L985.2 273.1 L986.6 267.2 L988.0 260.7 L989.4 253.8 L990.8 246.3 L992.2 238.5 L993.6 230.3 L994.9 221.8 L996.3 213.2 L997.7 204.5 L999.1 195.9 L1000.5 187.5 L1001.9 179.4 L1003.2 171.6 L1004.6 164.3 L1006.0 157.4 L1007.4 151.0 L1008.8 145.2 L1010.2 140.0 L1011.6 135.2 L1011.6 135.2" stroke="#fbbf85" stroke-width="3.2" fill="none" stroke-linejoin="round" stroke-linecap="butt"/>
<line x1="940.1" y1="130.7" x2="940.1" y2="318.9" stroke="#fefefe" stroke-width="1.7" opacity="0.9"/>
<line x1="940.1" y1="130.7" x2="940.1" y2="318.9" stroke="#cdcdcd" stroke-width="1.4" stroke-dasharray="4.5 3"/>
<text x="905.3" y="361.2" text-anchor="middle" class="at">Temp [°<tspan dx="1.4">C]</tspan></text>
<text transform="translate(730.2 226.4) rotate(-90)" text-anchor="middle" class="at" style="font-size:14.95px">Fluorescence [A.U.]</text>
<text x="905.5" y="112.0" text-anchor="middle" class="ti">AimR<tspan dy="-7.4" class="tsup">Phi3T</tspan></text>
<text x="789.5" y="240" class="tl" fill="#808080">34.8</text>
<text x="852.5" y="240" class="tl" fill="#0a7a1e">39.8</text>
<text x="894.5" y="240" class="tl" fill="#1450c8">47.8</text>
<text x="968" y="166.5" class="tl" fill="#f7a440">67.0</text>
<rect x="1009.5" y="196.7" width="14" height="12" fill="#666"/>
<text x="1027.5" y="207.5" class="lg" fill="#666">No AimP</text>
<rect x="1009.5" y="216.9" width="14" height="12" fill="#0f55ab"/>
<text x="1027.5" y="227.7" class="lg" fill="#0d56a8">GIVRGA<tspan dy="-4.5" class="lsup">Goe11</tspan></text>
<rect x="1009.5" y="237.1" width="14" height="12" fill="#108a56"/>
<text x="1027.5" y="247.9" class="lg" fill="#0b6b2e">GVVRGA<tspan dy="-4.5" class="lsup">13952</tspan></text>
<rect x="1009.5" y="257.3" width="14" height="12" fill="#fbc18b"/>
<text x="1027.5" y="268.1" class="lg" fill="#f5b47d">SAIRGA<tspan dy="-4.5" class="lsup">Phi3T</tspan></text>
</g>
<g id="panelB">
<rect x="190" y="434" width="124.2" height="100.5" fill="#dfe4f4"/>
<rect x="314.2" y="434" width="130.3" height="100.5" fill="#f1f1e3"/>
<rect x="444.5" y="434" width="107.5" height="100.5" fill="#fde8dc"/>
<path d="M48 433.1H552 M48 534.8H552" stroke="#0d0d0d" stroke-width="2"/>
<text transform="translate(371 426.2)" text-anchor="middle" class="bh">K<tspan dy="3" font-size="11">D</tspan><tspan dy="-3"> (nM)</tspan></text>
<text transform="translate(251.6 453)" text-anchor="middle" class="bh">AimR<tspan dy="-5.6" class="bsup">Goe11</tspan></text>
<text transform="translate(379.9 453)" text-anchor="middle" class="bh">AimR<tspan dy="-5.6" class="bsup">13952</tspan></text>
<text transform="translate(498.2 453)" text-anchor="middle" class="bh">AimR<tspan dy="-5.6" class="bsup">Phi3T</tspan></text>
<text transform="translate(118.5 478.2)" text-anchor="middle" class="bh">GIVRGA<tspan dy="-5.6" class="bsup">Goe11</tspan></text>
<text transform="translate(251.6 479.0)" text-anchor="middle" class="bv">4.3 ± 1.2</text>
<text transform="translate(379.9 479.0)" text-anchor="middle" class="bv">8.3 ± 1.4</text>
<text transform="translate(498.2 479.0)" text-anchor="middle" class="bv">NBD</text>
<text transform="translate(118.5 503.6)" text-anchor="middle" class="bh">GVVRGA<tspan dy="-5.6" class="bsup">13952</tspan></text>
<text transform="translate(253.1 504.40000000000003)" text-anchor="middle" class="bv">8.2 ± 3.0</text>
<text transform="translate(379.9 504.40000000000003)" text-anchor="middle" class="bv">5.9 ± 1.7</text>
<text transform="translate(498.2 504.40000000000003)" text-anchor="middle" class="bv">NBD</text>
<text transform="translate(118.5 529.3)" text-anchor="middle" class="bh">SAIRGA<tspan dy="-5.6" class="bsup">Phi3T</tspan></text>
<text transform="translate(251.6 530.0999999999999)" text-anchor="middle" class="bv">NBD</text>
<text transform="translate(379.9 530.0999999999999)" text-anchor="middle" class="bv">NBD</text>
<text transform="translate(498.2 530.0999999999999)" text-anchor="middle" class="bv">6.7 ± 0.6</text>
</g>
<g id="panelC">
<text x="215.3" y="607.2" class="ct" fill="#0b5ab6" stroke="#0b5ab6">AimR<tspan dy="-7" class="csup">Goe11</tspan></text>
<text x="402" y="607.2" class="ct" fill="#1c8748" stroke="#1c8748">AimR<tspan dy="-7" class="csup">13952</tspan></text>
<text x="181.4" y="636.8" text-anchor="end" class="cl">DNA</text>
<text x="181.4" y="650.6" text-anchor="end" class="cl">AimR</text>
<text x="181.4" y="664.6" text-anchor="end" class="cl">AimP</text>
<path d="M207.8 635.4h8.4M212.0 631.2v8.4 M237.8 635.4h8.4M241.9 631.2v8.4 M237.8 651h8.4M241.9 646.8v8.4 M267.7 635.4h8.4M271.9 631.2v8.4 M267.7 651h8.4M271.9 646.8v8.4 M297.7 635.4h8.4M301.9 631.2v8.4 M297.7 651h8.4M301.9 646.8v8.4 M327.6 635.4h8.4M331.8 631.2v8.4 M327.6 651h8.4M331.8 646.8v8.4 M357.6 635.4h8.4M361.8 631.2v8.4 M387.5 635.4h8.4M391.7 631.2v8.4 M387.5 651h8.4M391.7 646.8v8.4 M417.4 635.4h8.4M421.6 631.2v8.4 M417.4 651h8.4M421.6 646.8v8.4 M447.4 635.4h8.4M451.6 631.2v8.4 M447.4 651h8.4M451.6 646.8v8.4 M477.4 635.4h8.4M481.6 631.2v8.4 M477.4 651h8.4M481.6 646.8v8.4 " stroke="#0d0d0d" stroke-width="1.8" fill="none"/>
<rect x="263.5" y="657.1" width="21.6" height="11.6" fill="#0b57b6" stroke="#0d0d0d" stroke-width="1.8"/>
<rect x="292.1" y="657.1" width="21.6" height="11.6" fill="#036b12" stroke="#0d0d0d" stroke-width="1.8"/>
<rect x="322.1" y="657.1" width="21.6" height="11.6" fill="#fbc894" stroke="#0d0d0d" stroke-width="1.8"/>
<rect x="414.0" y="657.1" width="21.6" height="11.6" fill="#0b57b6" stroke="#0d0d0d" stroke-width="1.8"/>
<rect x="443.0" y="657.1" width="21.6" height="11.6" fill="#036b12" stroke="#0d0d0d" stroke-width="1.8"/>
<rect x="472.7" y="657.1" width="21.6" height="11.6" fill="#fbc894" stroke="#0d0d0d" stroke-width="1.8"/>
<rect x="192.8" y="672" width="309.6" height="151.5" fill="url(#gelbg)"/>
<rect x="192.8" y="672" width="309.6" height="151.5" fill="url(#geledge)"/>
<rect x="192.8" y="672" width="309.6" height="151.5" fill="#fff" filter="url(#noise)"/>
<g filter="url(#blur)">
<rect x="206.8" y="772.3" width="16" height="22" fill="#c6c6c6" opacity="0.32"/>
<rect x="236.6" y="767.8" width="16" height="22" fill="#c6c6c6" opacity="0.16"/>
<rect x="267.8" y="769.8" width="16" height="22" fill="#c6c6c6" opacity="0.30"/>
<rect x="297.5" y="768.8" width="16" height="22" fill="#c6c6c6" opacity="0.29"/>
<rect x="327.3" y="767.8" width="16" height="22" fill="#c6c6c6" opacity="0.22"/>
<rect x="358.5" y="768.8" width="16" height="22" fill="#c6c6c6" opacity="0.32"/>
<rect x="388.3" y="766.8" width="16" height="22" fill="#c6c6c6" opacity="0.15"/>
<rect x="418.9" y="767.3" width="16" height="22" fill="#c6c6c6" opacity="0.32"/>
<rect x="449.3" y="766.8" width="16" height="22" fill="#c6c6c6" opacity="0.32"/>
<rect x="481.0" y="763.8" width="16" height="22" fill="#c6c6c6" opacity="0.20"/>
</g><g filter="url(#blur2)">
<path d="M205.5 793.3H224.1V808.8Q221.8 813.8 214.8 814.1Q207.8 813.8 205.5 809.8Z" fill="url(#bandg)" opacity="0.90"/>
<path d="M235.3 788.8H253.9V804.3Q251.6 809.3 244.6 809.6Q237.6 809.3 235.3 805.3Z" fill="url(#bandg)" opacity="0.20"/>
<path d="M266.5 790.8H285.1V806.3Q282.8 811.3 275.8 811.6Q268.8 811.3 266.5 807.3Z" fill="url(#bandg)" opacity="0.80"/>
<path d="M296.2 789.8H314.8V805.3Q312.5 810.3 305.5 810.6Q298.5 810.3 296.2 806.3Z" fill="url(#bandg)" opacity="0.78"/>
<path d="M326.0 788.8H344.6V804.3Q342.3 809.3 335.3 809.6Q328.3 809.3 326.0 805.3Z" fill="url(#bandg)" opacity="0.45"/>
<path d="M357.2 789.8H375.8V805.3Q373.5 810.3 366.5 810.6Q359.5 810.3 357.2 806.3Z" fill="url(#bandg)" opacity="0.90"/>
<path d="M387.0 787.8H405.6V803.3Q403.3 808.3 396.3 808.6Q389.3 808.3 387.0 804.3Z" fill="url(#bandg)" opacity="0.12"/>
<path d="M417.6 788.3H436.2V803.8Q433.9 808.8 426.9 809.1Q419.9 808.8 417.6 804.8Z" fill="url(#bandg)" opacity="0.92"/>
<path d="M448.0 787.8H466.6V803.3Q464.3 808.3 457.3 808.6Q450.3 808.3 448.0 804.3Z" fill="url(#bandg)" opacity="0.92"/>
<path d="M479.7 784.8H498.3V800.3Q496.0 805.3 489.0 805.6Q482.0 805.3 479.7 801.3Z" fill="url(#bandg)" opacity="0.38"/>
<path d="M233.2 713.3H254.2V728.3Q243.7 730.8 233.2 728.3Z" fill="url(#bandu)" opacity="0.62"/>
<path d="M324.0 709.3H345.0V724.3Q334.5 726.8 324.0 724.3Z" fill="url(#bandu)" opacity="0.50"/>
<path d="M384.4 708.1H405.4V723.1Q394.9 725.6 384.4 723.1Z" fill="url(#bandu)" opacity="0.68"/>
<path d="M474.3 706.8H495.3V721.8Q484.8 724.3 474.3 721.8Z" fill="url(#bandu)" opacity="0.48"/>
</g>
<text x="165.3" y="732.6" text-anchor="end" class="cb">AimR-DNA</text>
<text x="165.3" y="810.3" text-anchor="end" class="cb">Free DNA</text>
<path d="M167 724.1H187 M173 715.8L188.3 724.1L173 732.4" stroke="#2a2a2a" stroke-width="3.6" fill="none" stroke-linejoin="miter" stroke-linecap="butt"/>
<path d="M167 803.3H187 M173 795.0L188.3 803.3L173 811.6" stroke="#2a2a2a" stroke-width="3.6" fill="none" stroke-linejoin="miter" stroke-linecap="butt"/>
</g>
<g id="panelD">
<text x="773.4" y="432.5" text-anchor="middle" class="dt">Goe11</text>
<text transform="translate(669.8 611) rotate(-90)" text-anchor="middle" class="dy">Fluorescence Intensity [A.U.]</text>
<text x="715.9" y="771.4" text-anchor="end" class="dl">0.00</text>
<text x="715.9" y="694.4" text-anchor="end" class="dl">1.00</text>
<text x="715.9" y="617.4" text-anchor="end" class="dl">2.00</text>
<text x="715.9" y="540.4" text-anchor="end" class="dl">3.00</text>
<text x="715.9" y="463.4" text-anchor="end" class="dl">4.00</text>
<rect x="724.1" y="515.0" width="22.4" height="250.2" fill="#a9a6a6"/>
<path d="M735.3 492.8V535.7 M732.9 492.8h4.8 M732.9 535.7h4.8" stroke="#2c2c2c" stroke-width="1" fill="none"/>
<text transform="translate(744.1 793.5) rotate(-45)" text-anchor="end" class="dx">No peptide</text>
<rect x="749.6" y="681.3" width="22.4" height="83.9" fill="#2a8fc8"/>
<path d="M760.9 670.6V691.7 M758.5 670.6h4.8 M758.5 691.7h4.8" stroke="#2c2c2c" stroke-width="1" fill="none"/>
<text transform="translate(769.6 793.5) rotate(-45)" text-anchor="end" class="dx">GIVRGA</text>
<rect x="775.2" y="662.0" width="22.4" height="103.2" fill="#0fab96"/>
<path d="M786.4 646.3V676.9 M784.0 646.3h4.8 M784.0 676.9h4.8" stroke="#2c2c2c" stroke-width="1" fill="none"/>
<text transform="translate(795.2 793.5) rotate(-45)" text-anchor="end" class="dx">GVVRGA</text>
<rect x="800.8" y="516.5" width="22.4" height="248.7" fill="#fddcc0"/>
<path d="M812.0 489.0V543.0 M809.6 489.0h4.8 M809.6 543.0h4.8" stroke="#2c2c2c" stroke-width="1" fill="none"/>
<text transform="translate(820.8 793.5) rotate(-45)" text-anchor="end" class="dx">SAIRGA</text>
<path d="M720.1 441.9V780.8H826.4" stroke="#686868" stroke-width="1.25" fill="none"/>
<path d="M717.7 765.2h2.4 M717.7 688.2h2.4 M717.7 611.2h2.4 M717.7 534.2h2.4 M717.7 457.2h2.4 M735.3 780.8v2.6 M760.9 780.8v2.6 M786.4 780.8v2.6 M812.0 780.8v2.6 " stroke="#555" stroke-width="1" fill="none"/>
<path d="M731.5 463.7V455.5H791.2V463.7" stroke="#141414" stroke-width="2.1" fill="none"/>
<text x="761.4" y="457.8" text-anchor="middle" class="ds">***</text>
<path d="M731.5 486.3V478.1H767.5V486.3" stroke="#141414" stroke-width="2.1" fill="none"/>
<text x="749.5" y="480.4" text-anchor="middle" class="ds">***</text>
<text x="999.4" y="432.5" text-anchor="middle" class="dt">Phi3T</text>
<text transform="translate(894.6 611) rotate(-90)" text-anchor="middle" class="dy">Fluorescence Intensity [A.U.]</text>
<text x="941.5" y="771.4" text-anchor="end" class="dl">0.00</text>
<text x="941.5" y="694.4" text-anchor="end" class="dl">0.50</text>
<text x="941.5" y="617.4" text-anchor="end" class="dl">1.00</text>
<text x="941.5" y="540.4" text-anchor="end" class="dl">1.50</text>
<text x="941.5" y="463.4" text-anchor="end" class="dl">2.00</text>
<rect x="949.7" y="530.4" width="22.4" height="234.9" fill="#a9a6a6"/>
<path d="M960.9 516.4V543.2 M958.5 516.4h4.8 M958.5 543.2h4.8" stroke="#2c2c2c" stroke-width="1" fill="none"/>
<text transform="translate(969.7 793.5) rotate(-45)" text-anchor="end" class="dx">No peptide</text>
<rect x="975.2" y="543.4" width="22.4" height="221.8" fill="#2a8fc8"/>
<path d="M986.5 514.1V572.1 M984.1 514.1h4.8 M984.1 572.1h4.8" stroke="#2c2c2c" stroke-width="1" fill="none"/>
<text transform="translate(995.2 793.5) rotate(-45)" text-anchor="end" class="dx">GIVRGA</text>
<rect x="1000.8" y="543.0" width="22.4" height="222.2" fill="#0fab96"/>
<path d="M1012.0 515.4V569.2 M1009.6 515.4h4.8 M1009.6 569.2h4.8" stroke="#2c2c2c" stroke-width="1" fill="none"/>
<text transform="translate(1020.8 793.5) rotate(-45)" text-anchor="end" class="dx">GVVRGA</text>
<rect x="1026.4" y="657.9" width="22.4" height="107.3" fill="#fddcc0"/>
<path d="M1037.6 645.2V669.3 M1035.2 645.2h4.8 M1035.2 669.3h4.8" stroke="#2c2c2c" stroke-width="1" fill="none"/>
<text transform="translate(1046.4 793.5) rotate(-45)" text-anchor="end" class="dx">SAIRGA</text>
<path d="M945.7 441.9V780.8H1052.0" stroke="#686868" stroke-width="1.25" fill="none"/>
<path d="M943.3 765.2h2.4 M943.3 688.2h2.4 M943.3 611.2h2.4 M943.3 534.2h2.4 M943.3 457.2h2.4 M960.9 780.8v2.6 M986.5 780.8v2.6 M1012.0 780.8v2.6 M1037.6 780.8v2.6 " stroke="#555" stroke-width="1" fill="none"/>
<path d="M956.8 486.3V478.1H1044.8V486.3" stroke="#141414" stroke-width="2.1" fill="none"/>
<text x="1000.8" y="480.4" text-anchor="middle" class="ds">***</text>
</g>
</svg>
</body></html>
